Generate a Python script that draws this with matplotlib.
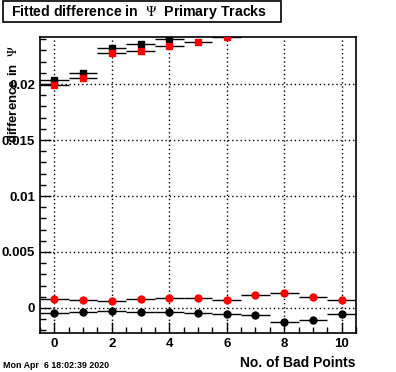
import numpy as np
import matplotlib
matplotlib.use("Agg")
import matplotlib.pyplot as plt
from matplotlib.patches import Rectangle
from matplotlib.ticker import MultipleLocator

plt.rcParams['font.family'] = ['Liberation Sans', 'DejaVu Sans']
plt.rcParams['mathtext.fontset'] = 'stix'

# values
bad_pts = np.arange(11)
# upper pair (only the points inside the frame)
up_black_x = [0, 1, 2, 3, 4]
up_black_y = [0.02036, 0.02095, 0.02319, 0.02357, 0.02402]
up_red_x = [0, 1, 2, 3, 4, 5, 6]
up_red_y = [0.01990, 0.02056, 0.02280, 0.02297, 0.02339, 0.02375, 0.02420]
# lower pair
low_red_y = [0.00080, 0.00069, 0.00060, 0.00078, 0.00089, 0.00089, 0.00069,
             0.00113, 0.00131, 0.00095, 0.00069]
low_black_y = [-0.00048, -0.00036, -0.00030, -0.00039, -0.00039, -0.00048,
               -0.00054, -0.00066, -0.00128, -0.00110, -0.00054]

fig = plt.figure(figsize=(3.96, 3.72), dpi=100)
ax = fig.add_axes([0.101, 0.105, 0.798, 0.7955])

def draw(x, y, marker, color, ms):
    ax.errorbar(x, y, xerr=0.5, fmt='none', ecolor='black', elinewidth=1.0,
                capsize=0, zorder=2)
    ax.plot(x, y, linestyle='none', marker=marker, color=color, ms=ms,
            mec=color, zorder=3, clip_on=True)

draw(up_black_x, up_black_y, 's', 'black', 4.3)
draw(up_red_x, up_red_y, 's', 'red', 4.3)
draw(bad_pts, low_red_y, 'o', 'red', 5.0)
draw(bad_pts, low_black_y, 'o', 'black', 5.0)

ax.set_xlim(-0.5, 10.5)
ax.set_ylim(-0.00223, 0.0242)
ax.xaxis.set_major_locator(MultipleLocator(2))
ax.xaxis.set_minor_locator(MultipleLocator(0.5))
ax.yaxis.set_major_locator(MultipleLocator(0.005))
ax.yaxis.set_minor_locator(MultipleLocator(0.001))
ax.set_yticks([0, 0.005, 0.01, 0.015, 0.02])
ax.set_yticklabels(['0', '0.005', '0.01', '0.015', '0.02'])
ax.tick_params(which='both', direction='in', top=False, right=False,
               labelsize=9.5, width=1)
ax.tick_params(which='major', length=8)
ax.tick_params(which='minor', length=4)
for lab in ax.get_xticklabels() + ax.get_yticklabels():
    lab.set_fontweight('bold')
ax.grid(True, which='major', linestyle=(0, (1, 2)), color='black', linewidth=1)
for s in ax.spines.values():
    s.set_linewidth(1.2)

fig.text(0.897, 0.024, 'No. of Bad Points', ha='right', va='center',
         fontsize=10, fontweight='bold')
# ROOT-style y title, sits over the tick labels like the original
fig.text(0.035, 0.879, r'difference in  $\Psi$', ha='center', va='top',
         rotation=90, fontsize=9.5, fontweight='bold')

# title box
fig.patches.append(Rectangle((3 / 396, 1 - 22 / 372), 278 / 396, 21 / 372,
                             transform=fig.transFigure, fill=False,
                             edgecolor='black', linewidth=1.2))
fig.text(11 / 396, 1 - 12 / 372, r'Fitted difference in  $\Psi$  Primary Tracks',
         ha='left', va='center', fontsize=10.2, fontweight='bold')

fig.text(0.008, 0.018, 'Mon Apr  6 18:02:39 2020', ha='left', va='center',
         fontsize=6.4, fontweight='bold')

fig.savefig('out.png', dpi=100)
